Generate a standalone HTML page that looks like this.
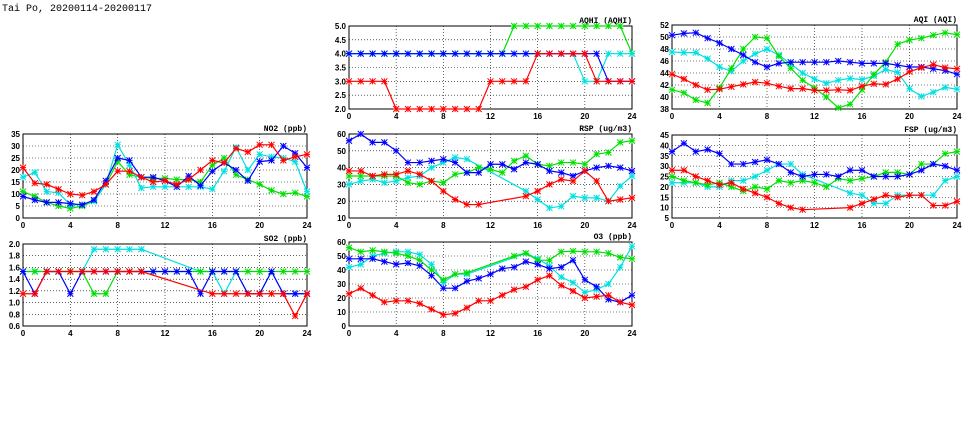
<!DOCTYPE html>
<html><head><meta charset="utf-8"><style>
body{margin:0;background:#fff;width:975px;height:447px;overflow:hidden}
svg{display:block}
text{font-family:"Liberation Sans",sans-serif;font-size:8px;font-weight:bold;fill:#000}
</style></head><body>
<svg id="c" width="975" height="447">
<text x="2" y="11" style="font-family:'Liberation Mono',monospace;font-size:10px;font-weight:normal">Tai Po, 20200114-20200117</text>
</svg>
<script>
const hours=[0,1,2,3,4,5,6,7,8,9,10,11,12,13,14,15,16,17,18,19,20,21,22,23,24];
const xTicks=[0,4,8,12,16,20,24];
const N=null;
const no2Red=[21,14.5,14,12,10,9.5,11,14,19.5,19.5,17,15,15.5,14,16,20,24,23,29,27.5,30.5,30.5,24,25.5,26.5];
const no2Green=[11,9,6.5,5,4,5,7,14,23.5,18,17,16.5,16.5,16,16,15,22,25,18,16,14,11.5,10,10.5,9];
const no2Blue=[9,7.5,6.5,6.5,6,5.5,7.5,15.5,25,24,17,17,15.5,13,17.5,13.5,19.5,23,20,15.5,23.5,24,30,27,21];
const no2Cyan=[17,19,11,10.5,5.5,5.5,7,14,30.5,22,12.5,13,13,13,13,13,12,19.5,29.5,20,26.5,25.5,25,23.5,11];
const so2Red=[1.15,1.15,1.53,1.53,1.53,1.53,1.53,1.53,1.53,1.53,1.53,N,N,N,N,N,1.15,1.15,1.15,1.15,1.15,1.15,1.15,0.77,1.15];
const so2Green=[1.53,1.53,1.53,1.53,1.53,1.53,1.15,1.15,1.53,1.53,1.53,1.53,1.53,1.53,1.53,1.53,1.53,1.53,1.53,1.53,1.53,1.53,1.53,1.53,1.53];
const so2Cyan=[1.53,1.53,1.53,1.53,1.53,1.53,1.91,1.91,1.91,1.91,1.91,N,N,N,N,1.53,1.53,1.15,1.53,1.15,1.15,1.53,1.15,1.15,1.15];
const so2Blue=[1.53,1.15,1.53,1.53,1.15,1.53,1.53,1.53,1.53,1.53,1.53,1.53,1.53,1.53,1.53,1.15,1.53,1.53,1.53,1.15,1.15,1.53,1.15,1.15,1.15];
const aqhiGreen=[4,4,4,4,4,4,4,4,4,4,4,4,4,4,5,5,5,5,5,5,5,5,5,5,4];
const aqhiCyan=[4,4,4,4,4,4,4,4,4,4,4,4,4,4,4,4,4,4,4,4,3,3,4,4,4];
const aqhiBlue=[4,4,4,4,4,4,4,4,4,4,4,4,4,4,4,4,4,4,4,4,4,4,3,3,3];
const aqhiRed=[3,3,3,3,2,2,2,2,2,2,2,2,3,3,3,3,4,4,4,4,4,3,3,3,3];
const rspBlue=[56,60,55,55,50,43,43,44,45,43,37,37,42,42,39,43,42,38,37,35,38,40,41,40,38];
const rspCyan=[30,32,33,31,32,34,35,40,43,46,45,N,N,N,N,26,21,16,17,23,22,22,20,29,35];
const rspGreen=[35,35,35,35,35,31,30,32,31,36,37,40,39,37,44,47,42,41,43,43,42,48,49,55,56];
const rspRed=[38,38,35,36,36,38,36,32,26,21,18,18,N,N,N,23,26,30,33,32,38,32,20,21,22];
const o3Green=[56,53,54,53,52,50,47,40,33,37,38,N,N,N,50,52,47,47,53,53.5,53,53,52,49,48];
const o3Cyan=[42,44,50,52,53,53,51,44,31,37,37,N,N,N,N,52,48,43,35,31,24,26,30,42,57];
const o3Blue=[48,48,48,46,44,45,43,36,27,27,32,34,37,41,42,46,44,41,42,47,33,28,19,17,22];
const o3Red=[23,27,22,17,18,18,16,12,8,9,13,18,18,22,26,28,33,36,29,25,20,21,22,17,15];
const aqiBlue=[50.3,50.6,50.7,49.8,49,48,47,45.8,45,45.6,45.8,45.8,45.8,45.8,46,45.8,45.6,45.6,45.6,45.3,45,45,44.7,44.4,43.8];
const aqiCyan=[47.5,47.4,47.4,46.4,45,44.3,46,47.2,48,47,45.5,44,43,42.3,42.8,43.1,42.9,43.5,44.6,44.1,41.4,40.1,40.8,41.6,41.3];
const aqiGreen=[41.2,40.7,39.5,39,41.5,44.8,48,50,49.8,46.8,44.8,42.8,41.5,40,38.2,38.8,41.2,43.8,45.8,48.8,49.5,49.8,50.3,50.7,50.4];
const aqiRed=[43.8,43,42,41.2,41.3,41.7,42.1,42.5,42.3,41.8,41.4,41.4,41.1,41.1,41.2,41.1,41.8,42.2,42.1,43,44.2,44.9,45.4,44.9,44.7];
const fspBlue=[37,41,37,38,36,31,31,32,33,31,27,25,26,26,25,28,28,25,25,25,26,28,31,30,28];
const fspCyan=[22,22,22,20,20,23,23,25,28,31,31,26,N,N,N,17,16,12,12,16,16,16,16,23,25];
const fspGreen=[25,23,22,21,22,20,18,20,19,23,22,23,22,20,24,23,24,25,27,27,26,31,31,36,37];
const fspRed=[28,28,25,23,21,22,19,17,15,12,10,9,N,N,N,10,12,14,16,15,16,16,11,11,13];
const yTicksNO2=[0,5,10,15,20,25,30,35];
const yTicksSO2=[0.6,0.8,1.0,1.2,1.4,1.6,1.8,2.0];
const yTicksAQHI=[2.0,2.5,3.0,3.5,4.0,4.5,5.0];
const yTicksRSP=[10,20,30,40,50,60];
const yTicksO3=[0,10,20,30,40,50,60];
const yTicksAQI=[38,40,42,44,46,48,50,52];
const yTicksFSP=[5,10,15,20,25,30,35,40,45];
const C={red:'#ff0000',green:'#00e000',blue:'#0000ff',cyan:'#00e0e0'};
const svg=document.getElementById('c');
const NS='http://www.w3.org/2000/svg';
function mk(tag,at,parent){const e=document.createElementNS(NS,tag);for(const k in at)e.setAttribute(k,at[k]);parent.appendChild(e);return e;}
function panel(id,title,x0,x1,yTop,yBot,ticks,dec,series){
 const g=mk('g',{},svg);
 
 
 const ymin=ticks[0],ymax=ticks[ticks.length-1];
 const X=h=>x0+(x1-x0)*h/24, Y=v=>yBot-(yBot-yTop)*(v-ymin)/(ymax-ymin);
 ticks.forEach((t,i)=>{
  if(i>0&&i<ticks.length-1){const l=mk('line',{x1:x0,x2:x1,y1:Y(t),y2:Y(t),stroke:'#000','stroke-width':0.6,'stroke-dasharray':'1,2'},g);}
  const tx=mk('text',{x:x0-3,y:Y(t)+3,'text-anchor':'end'},g);tx.textContent=t.toFixed(dec);
  
  
 });
 xTicks.forEach((t,i)=>{
  if(i>0&&i<xTicks.length-1){const l=mk('line',{x1:X(t),x2:X(t),y1:yTop,y2:yBot,stroke:'#000','stroke-width':0.6,'stroke-dasharray':'1,2'},g);}
  const tx=mk('text',{x:X(t),y:yBot+10,'text-anchor':'middle'},g);tx.textContent=t;
  
  
 });
 const fr=mk('rect',{x:x0,y:yTop,width:x1-x0,height:yBot-yTop,fill:'none',stroke:'#000','stroke-width':1},g);
 
 
 const tt=mk('text',{x:x1,y:yTop-3,'text-anchor':'end',style:"font-family:'Liberation Mono',monospace;font-size:8px"},g);tt.textContent=title;
 
 
 series.forEach(([name,col,vals])=>{
  const pts=[];vals.forEach((v,i)=>{if(v!==null)pts.push([X(hours[i]),Y(v)]);});
  const pl=mk('polyline',{points:pts.map(p=>p.join(',')).join(' '),fill:'none',stroke:C[col],'stroke-width':1.2},g);
  
  
  pts.forEach(p=>{const s=3;const m=mk('path',{d:`M${p[0]-s},${p[1]-s}L${p[0]+s},${p[1]+s}M${p[0]-s},${p[1]+s}L${p[0]+s},${p[1]-s}M${p[0]-s},${p[1]}L${p[0]+s},${p[1]}M${p[0]},${p[1]-s}L${p[0]},${p[1]+s}`,stroke:C[col],'stroke-width':1},g);
   
   });
 });
}
panel('no2','NO2 (ppb)',23,307,134,218,yTicksNO2,0,[['green','green',no2Green],['cyan','cyan',no2Cyan],['blue','blue',no2Blue],['red','red',no2Red]]);
panel('so2','SO2 (ppb)',23,307,244,326,yTicksSO2,1,[['cyan','cyan',so2Cyan],['green','green',so2Green],['blue','blue',so2Blue],['red','red',so2Red]]);
panel('aqhi','AQHI (AQHI)',349,632,26,109,yTicksAQHI,1,[['green','green',aqhiGreen],['cyan','cyan',aqhiCyan],['blue','blue',aqhiBlue],['red','red',aqhiRed]]);
panel('rsp','RSP (ug/m3)',349,632,134,218,yTicksRSP,0,[['cyan','cyan',rspCyan],['green','green',rspGreen],['blue','blue',rspBlue],['red','red',rspRed]]);
panel('o3','O3 (ppb)',349,632,242,326,yTicksO3,0,[['cyan','cyan',o3Cyan],['green','green',o3Green],['blue','blue',o3Blue],['red','red',o3Red]]);
panel('aqi','AQI (AQI)',672,957,25,109,yTicksAQI,0,[['cyan','cyan',aqiCyan],['green','green',aqiGreen],['blue','blue',aqiBlue],['red','red',aqiRed]]);
panel('fsp','FSP (ug/m3)',672,957,135,218,yTicksFSP,0,[['cyan','cyan',fspCyan],['green','green',fspGreen],['blue','blue',fspBlue],['red','red',fspRed]]);
</script>
</body></html>
